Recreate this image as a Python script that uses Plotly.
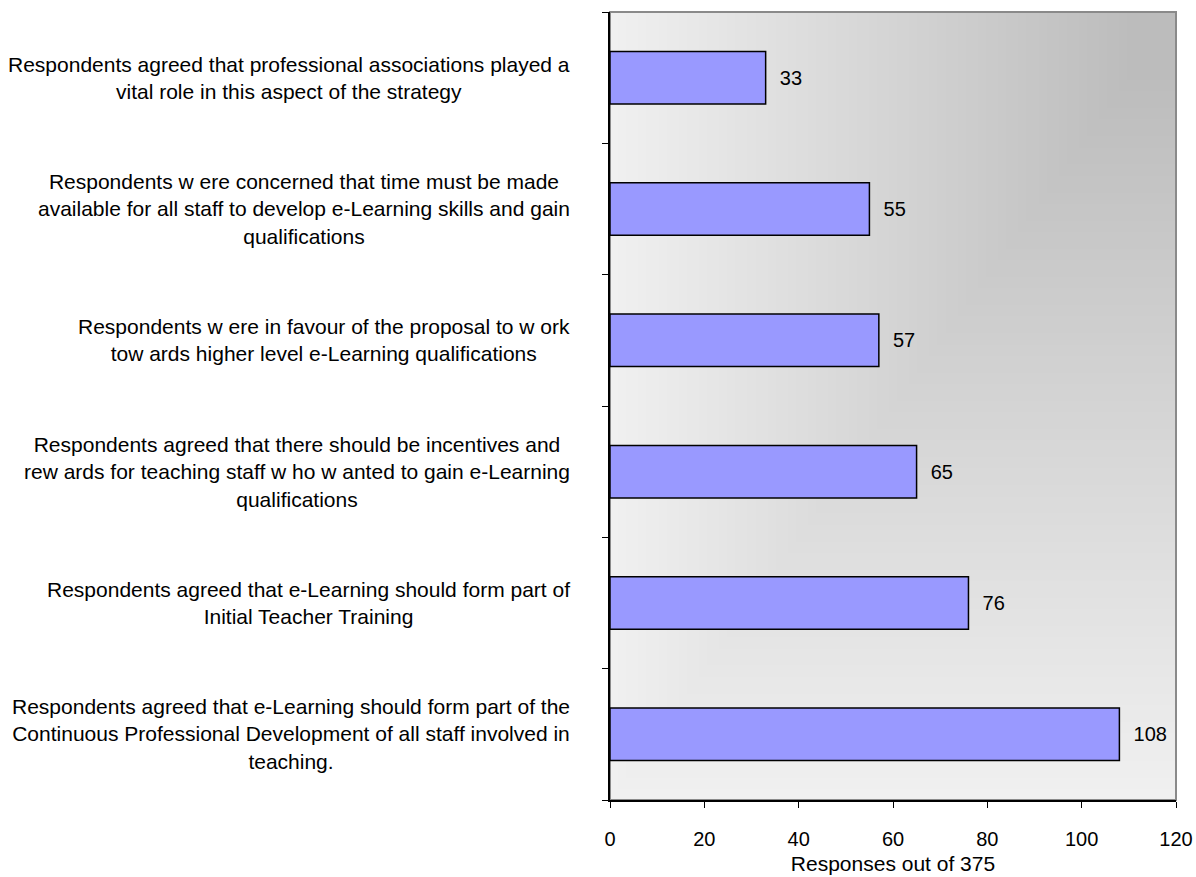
import base64
import plotly.graph_objects as go

categories = [
    "Respondents agreed that e-Learning should form part of the<br>Continuous Professional Development of all staff involved in<br>teaching.",
    "Respondents agreed that e-Learning should form part of<br>Initial Teacher Training",
    "Respondents agreed that there should be incentives and<br>rew ards for teaching staff w ho w anted to gain e-Learning<br>qualifications",
    "Respondents w ere in favour of the proposal to w ork<br>tow ards higher level e-Learning qualifications",
    "Respondents w ere concerned that time must be made<br>available for all staff to develop e-Learning skills and gain<br>qualifications",
    "Respondents agreed that professional associations played a<br>vital role in this aspect of the strategy",
]
values = [108, 76, 65, 57, 55, 33]
x_ticks = [0, 20, 40, 60, 80, 100, 120]
x_title = "Responses out of 375"

FONT = "Liberation Sans, Arial, sans-serif"

W, H = 1196, 877
L, R, T, B = 610, 20, 12, 77
pw, ph = W - L - R, H - T - B

# rectangular "from corner" gradient (top-right dark -> light)
steps = 140
rects = []
for k in range(steps, 0, -1):
    d = k / steps
    t = max(0.0, (d - 0.08) / 0.92)
    v = int(round(0xbc + t * (0xf0 - 0xbc)))
    w_, h_ = d * pw, d * ph
    rects.append(f'<rect x="{pw - w_:.2f}" y="0" width="{w_ + 0.5:.2f}" height="{h_ + 0.5:.2f}" fill="rgb({v},{v},{v})"/>')
svg = (f'<svg xmlns="http://www.w3.org/2000/svg" width="{pw}" height="{ph}" '
       f'viewBox="0 0 {pw} {ph}" preserveAspectRatio="none" shape-rendering="crispEdges">'
       + "".join(rects) + "</svg>")
src = "data:image/svg+xml;base64," + base64.b64encode(svg.encode()).decode()

fig = go.Figure(go.Bar(
    x=values, y=list(range(len(values))), orientation="h",
    marker=dict(color="#9999FF", line=dict(color="#000000", width=1.5)),
    texttemplate="\u00a0\u00a0%{x}", textposition="outside",
    textfont=dict(family=FONT, size=20, color="#000000"),
    cliponaxis=False, width=0.4, hoverinfo="skip",
))

for i, c in enumerate(categories):
    fig.add_annotation(x=-0.068, y=i, xref="paper", yref="y", text=c, showarrow=False,
                       xanchor="right", yanchor="middle", align="center",
                       font=dict(family=FONT, size=21, color="#000000"))

fig.add_layout_image(dict(source=src, xref="paper", yref="paper", x=0, y=1,
                          sizex=1, sizey=1, sizing="stretch", layer="below",
                          xanchor="left", yanchor="top"))
fig.add_shape(type="rect", xref="paper", yref="paper", x0=0, y0=0, x1=1, y1=1,
              line=dict(color="#8a8a8a", width=2), layer="below")

fig.update_layout(
    width=W, height=H, margin=dict(l=L, r=R, t=T, b=B, autoexpand=False),
    paper_bgcolor="white", plot_bgcolor="rgba(0,0,0,0)",
    showlegend=False, bargap=0.6,
    font=dict(family=FONT, size=20, color="#000000"),
)
fig.update_xaxes(range=[0, 120], tickvals=x_ticks, ticks="outside", ticklen=6,
                 tickcolor="#000", showline=True, linecolor="#000", linewidth=1.5,
                 showgrid=False, zeroline=False, automargin=False,
                 ticklabelstandoff=14,
                 tickfont=dict(family=FONT, size=20),
                 title=dict(text=x_title, font=dict(family=FONT, size=21), standoff=8))
fig.update_yaxes(range=[-0.5, 5.5], tickvals=[-0.5, 0.5, 1.5, 2.5, 3.5, 4.5, 5.5],
                 ticktext=[""] * 7, ticks="outside", ticklen=6, tickcolor="#000",
                 showline=True, linecolor="#000", linewidth=1.5, automargin=False,
                 showgrid=False, zeroline=False)

fig.write_html("out.html", config={"displayModeBar": False},
               post_script="document.body.style.margin='0';")
